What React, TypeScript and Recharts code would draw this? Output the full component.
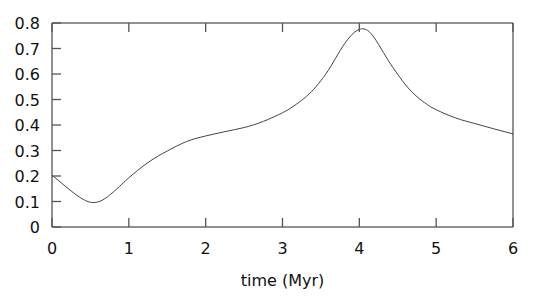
import React from 'react';
import { LineChart, Line, XAxis, YAxis } from 'recharts';

const times = [0, 0.125, 0.25, 0.375, 0.5, 0.625, 0.75, 0.875, 1, 1.25, 1.5, 1.75, 2, 2.25, 2.5, 2.75, 3, 3.125, 3.25, 3.375, 3.5, 3.625, 3.75, 3.875, 4, 4.125, 4.25, 4.375, 4.5, 4.625, 4.75, 4.875, 5, 5.25, 5.5, 5.75, 6];
const values = [0.203, 0.172, 0.141, 0.114, 0.097, 0.101, 0.125, 0.158, 0.193, 0.253, 0.298, 0.335, 0.357, 0.374, 0.39, 0.414, 0.448, 0.47, 0.497, 0.53, 0.574, 0.628, 0.692, 0.745, 0.775, 0.767, 0.716, 0.654, 0.598, 0.549, 0.511, 0.482, 0.46, 0.428, 0.406, 0.385, 0.365];
const xTicks = [0, 1, 2, 3, 4, 5, 6];
const yTicks = [0, 0.1, 0.2, 0.3, 0.4, 0.5, 0.6, 0.7, 0.8];
const xLabel = 'time (Myr)';

const data = times.map((t, i) => ({ t, v: values[i] }));

const font = '"DejaVu Sans", sans-serif';
const frame = '#222';
const tickCol = '#555';
const TICK = 9;

const fmt = (v: number) => (v === 0 ? '0' : String(v));

// ticks point inward, gnuplot style
const BottomTick = (props: any) => {
  const { x, y, payload } = props;
  return (
    <g>
      <path d={`M${x},${y}V${y - TICK}`} stroke={tickCol} strokeWidth={1.3} fill="none" />
      <text x={x} y={y + 27} textAnchor="middle" fontSize={16} fontFamily={font} fill="#111">
        {fmt(payload.value)}
      </text>
    </g>
  );
};

const TopTick = (props: any) => {
  const { x, y } = props;
  return <path d={`M${x},${y}V${y + TICK}`} stroke={tickCol} strokeWidth={1.3} fill="none" />;
};

const LeftTick = (props: any) => {
  const { x, y, payload } = props;
  return (
    <g>
      <path d={`M${x},${y}H${x + TICK}`} stroke={tickCol} strokeWidth={1.3} fill="none" />
      <text x={x - 12} y={y + 6} textAnchor="end" fontSize={16} fontFamily={font} fill="#111">
        {fmt(payload.value)}
      </text>
    </g>
  );
};

const RightTick = (props: any) => {
  const { x, y } = props;
  return <path d={`M${x},${y}H${x - TICK}`} stroke={tickCol} strokeWidth={1.3} fill="none" />;
};

const AxisTitle = (props: any) => {
  const { viewBox } = props;
  return (
    <text x={viewBox.x + viewBox.width / 2} y={viewBox.y + 59} textAnchor="middle" fontSize={16} fontFamily={font} fill="#111">
      {xLabel}
    </text>
  );
};

export default function App() {
  return (
    <div style={{ width: 538, height: 296, background: '#fff' }}>
      <style>{`body{margin:0}`}</style>
      <LineChart width={538} height={296} data={data} margin={{ top: 22, right: 24, bottom: 29, left: 0 }}>
        <XAxis
          xAxisId="b"
          dataKey="t"
          type="number"
          domain={[0, 6]}
          ticks={xTicks}
          height={40}
          tickSize={0}
          tickMargin={0}
          tickLine={false}
          axisLine={{ stroke: frame }}
          tick={<BottomTick />}
          label={<AxisTitle />}
        />
        <XAxis
          xAxisId="top"
          orientation="top"
          dataKey="t"
          type="number"
          domain={[0, 6]}
          ticks={xTicks}
          height={1}
          tickSize={0}
          tickMargin={0}
          tickLine={false}
          axisLine={{ stroke: frame }}
          tick={<TopTick />}
        />
        <YAxis
          yAxisId="l"
          type="number"
          domain={[0, 0.8]}
          ticks={yTicks}
          width={52}
          tickSize={0}
          tickMargin={0}
          tickLine={false}
          axisLine={{ stroke: frame }}
          tick={<LeftTick />}
        />
        <YAxis
          yAxisId="r"
          orientation="right"
          type="number"
          domain={[0, 0.8]}
          ticks={yTicks}
          width={1}
          tickSize={0}
          tickMargin={0}
          tickLine={false}
          axisLine={{ stroke: frame }}
          tick={<RightTick />}
        />
        <Line
          xAxisId="b"
          yAxisId="l"
          dataKey="v"
          type="natural"
          stroke="#444"
          strokeWidth={1}
          dot={false}
          isAnimationActive={false}
        />
      </LineChart>
    </div>
  );
}
